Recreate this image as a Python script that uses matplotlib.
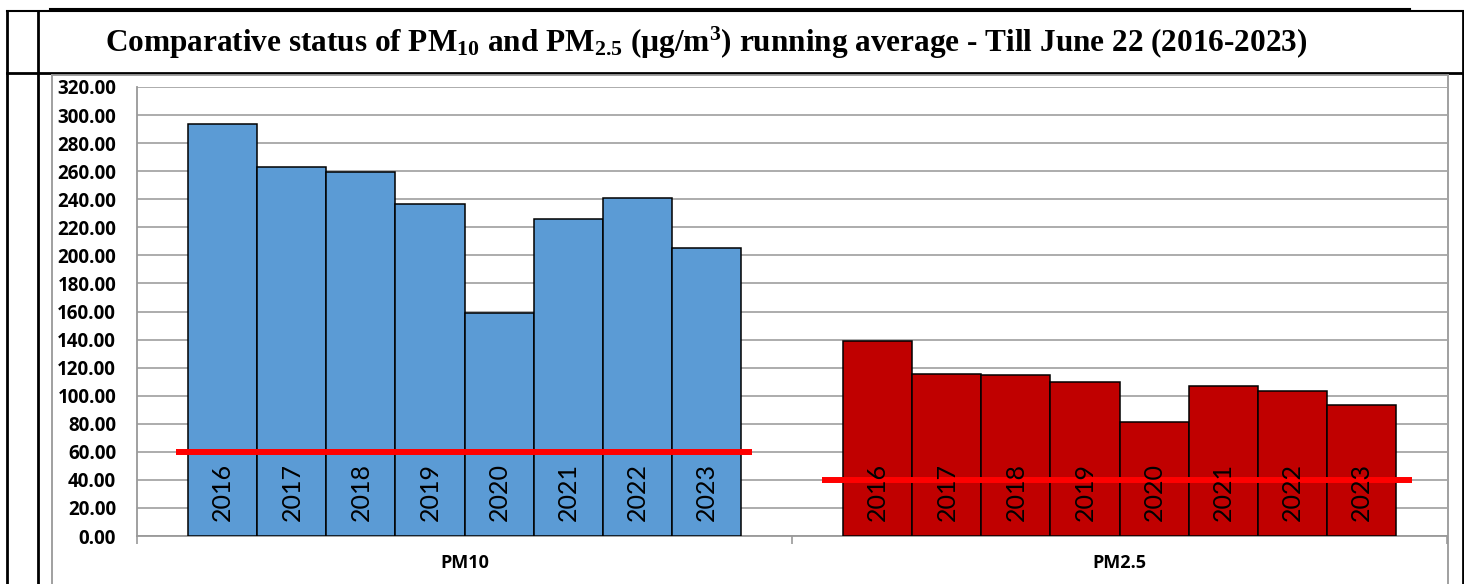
import numpy as np
import matplotlib.pyplot as plt
from matplotlib.lines import Line2D

# data
groups = ["PM10", "PM2.5"]
years = ["2016", "2017", "2018", "2019", "2020", "2021", "2022", "2023"]
pm10 = [293.5, 263.0, 259.5, 236.5, 159.0, 226.0, 241.0, 205.0]
pm25 = [139.0, 115.5, 115.0, 109.5, 81.5, 107.0, 103.5, 93.5]
limits = [60, 40]  # standard lines
colors = ["#5B9BD5", "#C00000"]

W, H = 1464, 584
fig = plt.figure(figsize=(W / 100, H / 100), dpi=100)


def fx(px):
    return px / W


def fy(py):
    return 1 - py / H


ax = fig.add_axes([fx(137), fy(536), fx(1447) - fx(137), fy(87) - fy(536)])

bw = 0.1054
offs = (np.arange(len(years)) - (len(years) - 1) / 2) * bw
for gi, vals in enumerate([pm10, pm25]):
    xs = gi + offs
    ax.bar(xs, vals, width=bw, color=colors[gi], edgecolor="black",
           linewidth=1.1, zorder=3)
    for x, yr in zip(xs, years):
        ax.text(x, 31.5, yr, rotation=90, ha="center", va="center",
                fontsize=18, family="Lato", color="black", zorder=5)

# standard lines
spans = [(-0.44, 0.439), (-0.454, 0.447)]
for gi, (lim, (a, b)) in enumerate(zip(limits, spans)):
    ax.plot([gi + a, gi + b], [lim, lim], color="#FF0000", lw=4.3,
            solid_capstyle="butt", zorder=4)

ax.set_xlim(-0.5, 1.5)
ax.set_ylim(0, 320)
ax.set_yticks(np.arange(0, 321, 20))
ax.set_yticklabels([f"{v:.2f}" for v in np.arange(0, 321, 20)],
                   fontsize=13.5, fontweight="bold", family="Open Sans")
ax.tick_params(axis="y", length=0, pad=15)
ax.set_xticks([-0.5, 0.5, 1.5])
ax.set_xticklabels([])
ax.tick_params(axis="x", direction="out", length=6, color="#999999", width=1.2)
ax.set_xticks([0, 1], minor=True)
ax.set_xticklabels(groups, minor=True, fontsize=13, fontweight="bold",
                   family="Open Sans")
ax.tick_params(axis="x", which="minor", length=0, pad=13)
ax.grid(axis="y", color="#A6A6A6", lw=1.3, zorder=0)
ax.set_axisbelow(True)
for s in ["top", "right"]:
    ax.spines[s].set_visible(False)
for s in ["left", "bottom"]:
    ax.spines[s].set_color("#999999")
    ax.spines[s].set_linewidth(1.3)

# title (serif, bold)
plt.rcParams["mathtext.fontset"] = "custom"
plt.rcParams["mathtext.rm"] = "Liberation Serif:bold"
plt.rcParams["mathtext.it"] = "Liberation Serif:bold"
plt.rcParams["mathtext.bf"] = "Liberation Serif:bold"
fig.text(fx(706), fy(43),
         "Comparative status of PM$_{10}$ and PM$_{2.5}$ (µg/m$^{3}$) running average - Till June 22 (2016-2023)",
         ha="center", va="center", fontsize=22.5, fontweight="bold",
         family="Liberation Serif")


def line(x0, y0, x1, y1, c="black", lw=2.0):
    fig.add_artist(Line2D([fx(x0), fx(x1)], [fy(y0), fy(y1)], color=c,
                          lw=lw, transform=fig.transFigure))


# outer table frame
line(7, 11, 1463, 11, lw=1.5)
line(50, 9, 1410, 9, lw=1.5)
line(7, 73, 1463, 73, lw=2.0)
line(7, 11, 7, 584, lw=2.0)
line(38, 11, 38, 584, lw=2.0)
line(1463, 11, 1463, 584, lw=2.0)
# chart area border
line(52, 75, 1448, 75, c="#999999", lw=1.3)
line(52, 75, 52, 584, c="#999999", lw=1.3)
line(1448, 75, 1448, 584, c="#999999", lw=1.3)

fig.savefig("out.png", dpi=100)
